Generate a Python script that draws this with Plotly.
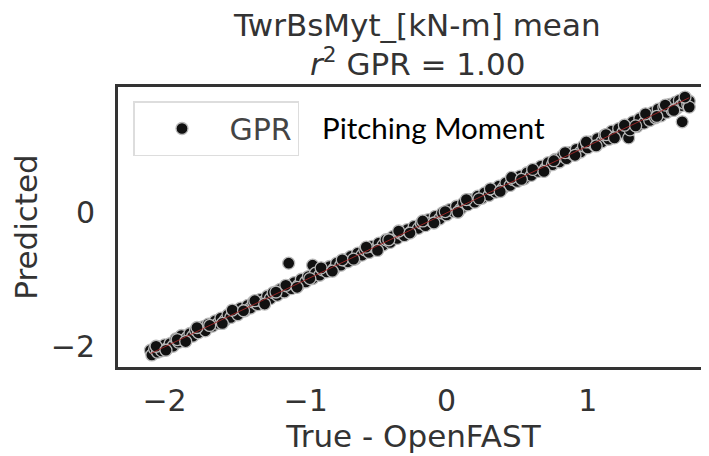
import plotly.graph_objects as go

true_vals = [
    -2.10, -2.09, -2.07, -2.05, -2.04, -2.02, -2.00, -1.98, -1.96, -1.94,
    -1.92, -1.90, -1.88, -1.86, -1.84, -1.82, -1.80, -1.78, -1.76, -1.73,
    -1.71, -1.69, -1.66, -1.64, -1.62, -1.60, -1.57, -1.55, -1.53, -1.50,
    -1.48, -1.46, -1.43, -1.41, -1.39, -1.37, -1.34, -1.32, -1.30, -1.27,
    -1.25, -1.23, -1.20, -1.18, -1.15, -1.13, -1.12, -1.10, -1.08, -1.05,
    -1.03, -1.00, -0.98, -0.95, -0.95, -0.93, -0.90, -0.88, -0.85, -0.83,
    -0.80, -0.78, -0.75, -0.73, -0.70, -0.68, -0.65, -0.63, -0.60, -0.58,
    -0.55, -0.53, -0.50, -0.48, -0.45, -0.43, -0.40, -0.38, -0.35, -0.33,
    -0.30, -0.28, -0.25, -0.23, -0.20, -0.18, -0.15, -0.13, -0.10, -0.08,
    -0.05, -0.03, 0.00, 0.02, 0.05, 0.07, 0.10, 0.12, 0.15, 0.17,
    0.20, 0.22, 0.25, 0.27, 0.30, 0.32, 0.35, 0.37, 0.40, 0.42,
    0.45, 0.47, 0.50, 0.52, 0.55, 0.57, 0.60, 0.62, 0.65, 0.67,
    0.70, 0.72, 0.75, 0.77, 0.80, 0.82, 0.85, 0.87, 0.90, 0.92,
    0.95, 0.97, 1.00, 1.02, 1.05, 1.07, 1.10, 1.12, 1.15, 1.17,
    1.20, 1.22, 1.25, 1.27, 1.29, 1.30, 1.32, 1.35, 1.37, 1.40,
    1.42, 1.44, 1.46, 1.48, 1.50, 1.52, 1.54, 1.56, 1.58, 1.60,
    1.62, 1.63, 1.65, 1.66, 1.67, 1.68, 1.70, 1.71, 1.72, 1.72,
    -2.06, -1.99, -1.91, -1.85, -1.77, -1.68, -1.59, -1.52, -1.44, -1.36,
    -1.29, -1.21, -1.14, -1.06, -0.97, -0.89, -0.81, -0.74, -0.66, -0.57,
    -0.49, -0.41, -0.34, -0.26, -0.17, -0.09, -0.01, 0.08, 0.14, 0.23,
    0.31, 0.38, 0.46, 0.53, 0.61, 0.69, 0.76, 0.84, 0.91, 0.99,
    1.06, 1.13, 1.19, 1.26, 1.34, 1.41, 1.49, 1.55, 1.61, 1.69,
]
pred_vals = [
    -2.05, -2.12, -2.03, -2.08, -2.00, -2.06, -1.97, -2.02, -1.95, -1.99,
    -1.88, -1.93, -1.83, -1.90, -1.86, -1.80, -1.84, -1.75, -1.79, -1.70,
    -1.76, -1.66, -1.69, -1.61, -1.65, -1.57, -1.60, -1.52, -1.56, -1.47,
    -1.52, -1.42, -1.46, -1.38, -1.42, -1.33, -1.37, -1.29, -1.33, -1.24,
    -1.28, -1.19, -1.23, -1.14, -1.18, -1.09, -0.75, -1.13, -1.04, -1.08,
    -0.99, -1.03, -0.95, -0.78, -0.98, -0.90, -0.93, -0.85, -0.88, -0.80,
    -0.84, -0.75, -0.78, -0.70, -0.73, -0.65, -0.69, -0.60, -0.63, -0.55,
    -0.59, -0.50, -0.53, -0.45, -0.48, -0.40, -0.44, -0.35, -0.38, -0.30,
    -0.34, -0.25, -0.28, -0.20, -0.23, -0.15, -0.19, -0.10, -0.13, -0.05,
    -0.09, 0.00, -0.03, 0.05, 0.02, 0.10, 0.06, 0.15, 0.12, 0.20,
    0.16, 0.25, 0.22, 0.30, 0.26, 0.35, 0.31, 0.40, 0.37, 0.45,
    0.41, 0.50, 0.47, 0.55, 0.51, 0.60, 0.56, 0.65, 0.62, 0.70,
    0.66, 0.75, 0.72, 0.80, 0.76, 0.85, 0.81, 0.90, 0.87, 0.95,
    0.91, 1.00, 0.97, 1.06, 1.01, 1.11, 1.06, 1.16, 1.10, 1.22,
    1.15, 1.26, 1.20, 1.31, 1.12, 1.24, 1.36, 1.29, 1.41, 1.34,
    1.46, 1.38, 1.50, 1.42, 1.55, 1.45, 1.58, 1.50, 1.62, 1.53,
    1.65, 1.56, 1.68, 1.60, 1.36, 1.64, 1.70, 1.62, 1.67, 1.58,
    -1.99, -2.05, -1.89, -1.92, -1.71, -1.68, -1.65, -1.45, -1.46, -1.31,
    -1.36, -1.18, -1.08, -1.11, -0.98, -0.82, -0.87, -0.70, -0.69, -0.51,
    -0.56, -0.40, -0.27, -0.30, -0.12, -0.15, 0.02, 0.01, 0.20, 0.21,
    0.36, 0.32, 0.53, 0.50, 0.65, 0.62, 0.78, 0.90, 0.86, 1.06,
    1.00, 1.17, 1.12, 1.31, 1.30, 1.48, 1.44, 1.61, 1.53, 1.73,
]
identity_line = [-2.10, 1.72]

x_ticks = [-2, -1, 0, 1]
x_tick_labels = ["\u22122", "\u22121", "0", "1"]
y_ticks = [-2, 0]
y_tick_labels = ["\u22122", "0"]

title_line1 = "TwrBsMyt_[kN-m] mean"
title_line2 = "<i>r</i><sup>2</sup> GPR = 1.00"

# The page body adds an 8px offset; the figure is sized so it ends at the window edge.
OFF = 8
W, H = 709 - OFF, 456 - OFF
L, T = 118 - OFF, 87 - OFF
B = H - (367 - OFF)
R = 0
pw = W - L - R
ph = H - T - B


def px_x(p):
    return (p - OFF - L) / pw


def px_y(p):
    return (H - B - (p - OFF)) / ph


fig = go.Figure()
fig.add_trace(go.Scatter(
    x=true_vals, y=pred_vals, mode="markers", name="GPR",
    marker=dict(color="#111111", size=12,
                line=dict(color="rgba(185,185,185,1)", width=1.3)),
))
fig.add_trace(go.Scatter(
    x=identity_line, y=identity_line, mode="lines", showlegend=False,
    line=dict(color="rgba(170,40,40,0.85)", width=1),
))

txt = "#333333"
font = "DejaVu Sans"
fig.update_layout(
    width=W, height=H,
    margin=dict(l=L, r=R, t=T, b=B, autoexpand=False),
    paper_bgcolor="white", plot_bgcolor="white",
    font=dict(family=font, size=30, color=txt),
    showlegend=True,
    legend=dict(
        x=px_x(133), y=px_y(101), xanchor="left", yanchor="top",
        bgcolor="white", bordercolor="#dddddd", borderwidth=1.5,
        font=dict(family=font, size=30, color="#444444"),
        itemwidth=85,
    ),
    annotations=[
        dict(text=title_line1, x=px_x(417), y=px_y(25), xref="paper", yref="paper",
             yanchor="middle", showarrow=False,
             font=dict(family=font, size=31, color=txt)),
        dict(text=title_line2, x=px_x(417), y=px_y(62), xref="paper", yref="paper",
             yanchor="middle", showarrow=False,
             font=dict(family=font, size=31, color=txt)),
        dict(text="Pitching Moment", x=px_x(320), y=px_y(127), xref="paper", yref="paper",
             xanchor="left", yanchor="middle", showarrow=False,
             font=dict(family="Lato", size=29.5, color="black")),
    ],
)

fig.update_xaxes(
    range=[-2.33, 1.86], tickvals=x_ticks, ticktext=x_tick_labels,
    showgrid=False, zeroline=False, automargin=False,
    showline=True, linecolor="#333333", linewidth=3, mirror=True,
    ticks="outside", ticklen=5, tickcolor="white",
    tickfont=dict(size=30),
    title=dict(text="True - OpenFAST", font=dict(size=31, color=txt), standoff=3),
)
fig.update_yaxes(
    range=[-2.3, 1.88], tickvals=y_ticks, ticktext=y_tick_labels,
    showgrid=False, zeroline=False, automargin=False,
    showline=True, linecolor="#333333", linewidth=3,
    ticks="outside", ticklen=14, tickcolor="white",
    tickfont=dict(size=30),
    title=dict(text="Predicted", font=dict(size=31, color=txt), standoff=5),
)

fig.write_html("out.html")
